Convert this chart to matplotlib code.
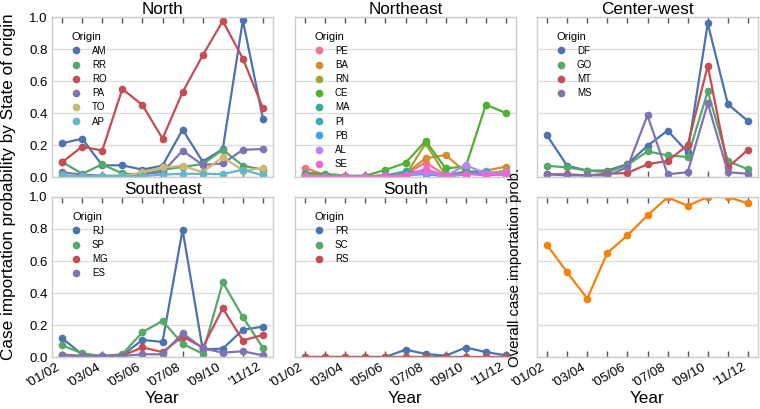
import matplotlib
matplotlib.use("Agg")
import matplotlib.pyplot as plt
from matplotlib.lines import Line2D
import seaborn as sns

plt.rcParams['font.family'] = ['Liberation Sans', 'DejaVu Sans']

seasons = ["'01/02", "'02/03", "'03/04", "'04/05", "'05/06", "'06/07",
           "'07/08", "'08/09", "'09/10", "'10/11", "'11/12"]
x = list(range(len(seasons)))

# North
north_states = ["AM", "RR", "RO", "PA", "TO", "AP"]
north_AM = [0.21, 0.24, 0.073, 0.073, 0.046, 0.071, 0.296, 0.096, 0.175, 0.98, 0.365]
north_RR = [0.095, 0.02, 0.079, 0.022, 0.015, 0.045, 0.063, 0.081, 0.17, 0.071, 0.046]
north_RO = [0.092, 0.19, 0.165, 0.55, 0.45, 0.24, 0.53, 0.76, 0.975, 0.74, 0.43]
north_PA = [0.03, 0.015, 0.008, 0.008, 0.02, 0.03, 0.165, 0.075, 0.085, 0.17, 0.175]
north_TO = [0.01, 0.005, 0.005, 0.005, 0.03, 0.06, 0.07, 0.03, 0.125, 0.04, 0.055]
north_AP = [0.01, 0.005, 0.005, 0.005, 0.005, 0.015, 0.02, 0.02, 0.018, 0.046, 0.01]

# Northeast
ne_states = ["PE", "BA", "RN", "CE", "MA", "PI", "PB", "AL", "SE"]
ne_PE = [0.058, 0.01, 0.005, 0.005, 0.01, 0.02, 0.09, 0.01, 0.03, 0.01, 0.02]
ne_BA = [0.02, 0.01, 0.002, 0.002, 0.01, 0.02, 0.117, 0.137, 0.03, 0.04, 0.065]
ne_RN = [0.01, 0.005, 0.002, 0.002, 0.005, 0.01, 0.21, 0.01, 0.02, 0.02, 0.04]
ne_CE = [0.027, 0.02, 0.008, 0.008, 0.044, 0.088, 0.225, 0.054, 0.065, 0.452, 0.40]
ne_MA = [0.01, 0.005, 0.002, 0.002, 0.01, 0.035, 0.03, 0.01, 0.035, 0.03, 0.02]
ne_PI = [0.005, 0.002, 0.002, 0.002, 0.005, 0.015, 0.02, 0.005, 0.02, 0.02, 0.015]
ne_PB = [0.005, 0.002, 0.002, 0.002, 0.005, 0.01, 0.02, 0.005, 0.015, 0.03, 0.01]
ne_AL = [0.005, 0.002, 0.002, 0.002, 0.005, 0.01, 0.03, 0.005, 0.075, 0.02, 0.03]
ne_SE = [0.005, 0.002, 0.002, 0.002, 0.005, 0.01, 0.05, 0.005, 0.02, 0.01, 0.02]

# Center-west
cw_states = ["DF", "GO", "MT", "MS"]
cw_DF = [0.26, 0.07, 0.04, 0.04, 0.08, 0.195, 0.29, 0.155, 0.96, 0.455, 0.35]
cw_GO = [0.07, 0.06, 0.04, 0.03, 0.075, 0.16, 0.135, 0.125, 0.535, 0.10, 0.048]
cw_MT = [0.017, 0.017, 0.01, 0.02, 0.025, 0.08, 0.10, 0.2, 0.695, 0.06, 0.17]
cw_MS = [0.017, 0.01, 0.01, 0.01, 0.06, 0.385, 0.017, 0.03, 0.46, 0.03, 0.02]

# Southeast
se_states = ["RJ", "SP", "MG", "ES"]
se_RJ = [0.117, 0.017, 0.006, 0.01, 0.107, 0.094, 0.795, 0.048, 0.052, 0.17, 0.19]
se_SP = [0.073, 0.023, 0.006, 0.017, 0.155, 0.226, 0.082, 0.021, 0.467, 0.25, 0.057]
se_MG = [0.015, 0.006, 0.006, 0.008, 0.06, 0.031, 0.128, 0.059, 0.304, 0.103, 0.138]
se_ES = [0.01, 0.006, 0.006, 0.006, 0.017, 0.017, 0.149, 0.055, 0.027, 0.036, 0.01]

# South
s_states = ["PR", "SC", "RS"]
s_PR = [0, 0, 0, 0, 0, 0.046, 0.019, 0.008, 0.059, 0.031, 0.01]
s_SC = [0, 0, 0, 0, 0, 0, 0, 0, 0, 0, 0]
s_RS = [0, 0, 0, 0, 0, 0, 0, 0, 0, 0, 0]

overall = [0.70, 0.53, 0.365, 0.65, 0.76, 0.885, 0.998, 0.945, 1.0, 1.0, 0.96]

deep = ["#4C72B0", "#55A868", "#C44E52", "#8172B2", "#CCB974", "#64B5CD"]
husl = sns.color_palette("husl", 9)

panels = [
    ("North", north_states, [north_AM, north_RR, north_RO, north_PA, north_TO, north_AP], deep),
    ("Northeast", ne_states, [ne_PE, ne_BA, ne_RN, ne_CE, ne_MA, ne_PI, ne_PB, ne_AL, ne_SE], husl),
    ("Center-west", cw_states, [cw_DF, cw_GO, cw_MT, cw_MS], deep),
    ("Southeast", se_states, [se_RJ, se_SP, se_MG, se_ES], deep),
    ("South", s_states, [s_PR, s_SC, s_RS], deep),
]

fig = plt.figure(figsize=(7.6, 4.09), dpi=100)
W, H = 760, 409
lefts = [52, 295, 537]
tops = [17, 197]
aw, ah = 221, 160


def make_ax(col, row):
    ax = fig.add_axes([lefts[col] / W, (H - tops[row] - ah) / H, aw / W, ah / H])
    ax.set_facecolor("white")
    for s in ax.spines.values():
        s.set_color("#cccccc")
        s.set_linewidth(1)
    ax.set_xlim(-0.5, 10.5)
    ax.set_ylim(0, 1)
    ax.set_yticks([0, 0.2, 0.4, 0.6, 0.8, 1.0])
    ax.yaxis.grid(True, color="#dddddd", linewidth=1)
    ax.set_axisbelow(True)
    ax.set_xticks(x)
    ax.tick_params(axis="x", direction="in", top=True, bottom=True, length=4,
                   width=1, color="#555555", labelsize=9.5, pad=3)
    ax.tick_params(axis="y", length=0, labelsize=9.5, pad=3)
    if row == 1:
        ax.set_xticklabels([s if i % 2 == 0 else "" for i, s in enumerate(seasons)],
                           rotation=30, ha="right")
        ax.set_xlabel("Year", fontsize=12.3, labelpad=1)
    else:
        ax.set_xticklabels([])
    if col != 0:
        ax.set_yticklabels([])
    return ax


for i, (title, states, series, cols) in enumerate(panels):
    ax = make_ax(i % 3, i // 3)
    ax.set_title(title, fontsize=12.3, pad=2)
    for st, vals, c in zip(states, series, cols):
        ax.plot(x, vals, color=c, marker="o", markersize=4.5, linewidth=1.6)
    handles = [Line2D([], [], color=c, marker="o", linestyle="", markersize=4.5)
               for c in cols[:len(states)]]
    ax.legend(handles, states, title="Origin", loc="upper left", frameon=False,
              fontsize=7, title_fontsize=8, labelspacing=0.43,
              handlelength=2, handletextpad=0.6, borderaxespad=1.1)

ax6 = make_ax(2, 1)
ax6.plot(x, overall, color="#f5820d", marker="o", markersize=4.5, linewidth=1.6)
ax6.set_ylabel("Overall case importation prob.", fontsize=10.7)
ax6.yaxis.set_label_coords(-0.07, 0.56)

fig.text(9 / W, (H - 187) / H, "Case importation probability by State of origin",
         rotation=90, va="center", ha="center", fontsize=12.3)

fig.savefig("out.png", dpi=100)
